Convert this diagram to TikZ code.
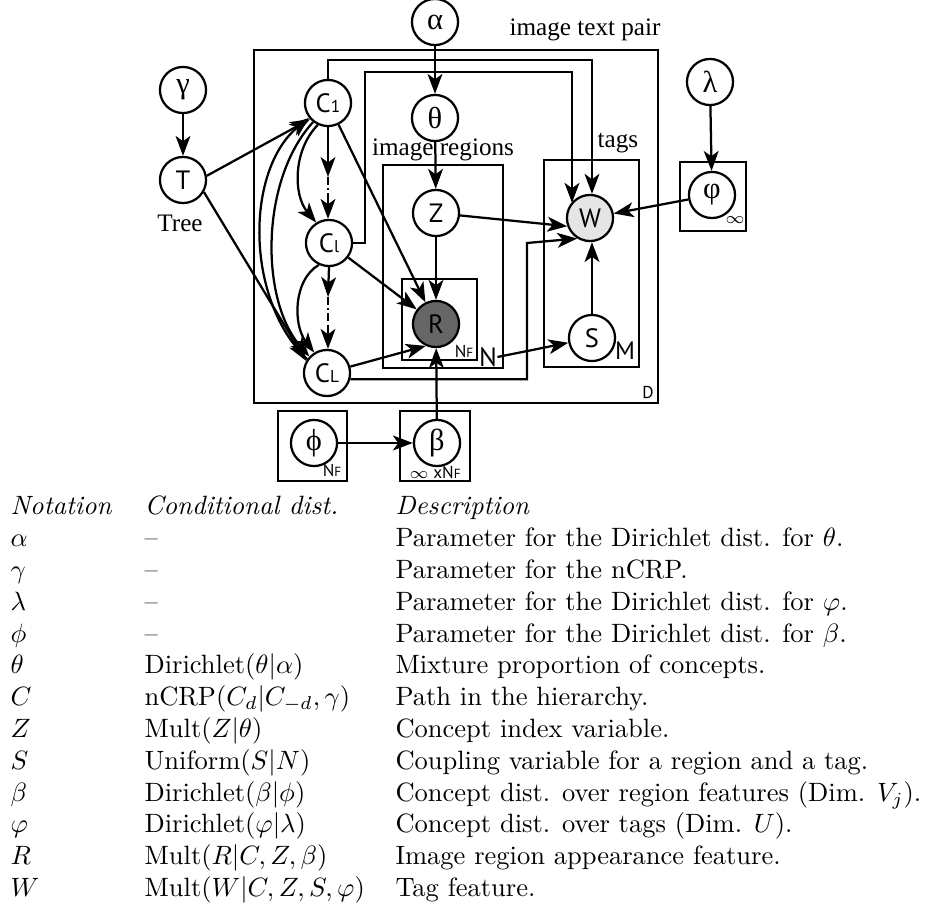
\documentclass[tikz,border=0pt]{standalone}
\usepackage{fontspec}
\newfontfamily\dsans{PT Sans}
\newfontfamily\dserif{Liberation Serif}
\usetikzlibrary{arrows.meta}
\definecolor{wgray}{gray}{0.9}
\definecolor{rgray}{gray}{0.4}
\begin{document}
\begin{tikzpicture}[x=0.3774pt,y=-0.3774pt,
  var/.style={circle,draw,line width=0.85pt,minimum size=17.4pt,inner sep=0pt,font=\dsans\fontsize{10}{10}\selectfont},
  gvar/.style={var,font=\dserif\fontsize{11.5}{11.5}\selectfont},
  plate/.style={draw,line width=0.85pt},
  arr/.style={-{Stealth[length=7.5pt,width=5.6pt,inset=2pt]},line width=0.85pt},
  ln/.style={line width=0.85pt},
  dd/.style={line width=0.85pt,dash pattern=on 3pt off 1.2pt on 0.8pt off 1.2pt},
  lbl/.style={font=\dserif\fontsize{9.5}{9.5}\selectfont,inner sep=0pt},
  sub/.style={font=\dsans\fontsize{6.5}{6.5}\selectfont,inner sep=0pt},
]
\useasboundingbox (0,0) rectangle (925,914);

% plates
\draw[plate] (254,50) rectangle (658,403);
\draw[plate] (383,165) rectangle (503,368);
\draw[plate] (402,279) rectangle (477,360);
\draw[plate] (544,160) rectangle (639,367);
\draw[plate] (680,162) rectangle (746,231);
\draw[plate] (278,411) rectangle (347,481);
\draw[plate] (400,411) rectangle (470,481);

% variables
\node[gvar] (alpha) at (435,22) {α};
\node[gvar] (gamma) at (183,90) {γ};
\node[var] (T) at (183,180) {T};
\node[var] (C1) at (328,103) {C{\fontsize{6.5}{6.5}\selectfont 1}};
\node[gvar] (theta) at (435,118) {θ};
\node[var] (Z) at (436,213) {Z};
\node[var] (Cl) at (329,243) {C{\fontsize{6.5}{6.5}\selectfont l}};
\node[var] (CL) at (327,373) {C{\fontsize{6.5}{6.5}\selectfont L}};
\node[var,fill=rgray] (R) at (436,324) {R};
\node[var,fill=wgray] (W) at (590,218) {W};
\node[var] (S) at (592,338) {S};
\node[gvar] (lambda) at (710,82) {λ};
\node[gvar] (vphi) at (712,195) {φ};
\node[gvar] (phi) at (314,443) {ϕ};
\node[gvar] (beta) at (437,443) {β};

% labels
\node[lbl] (tree) at (180,223) {Tree};
\node[lbl] (imreg) at (443,150) {image regions};
\node[lbl] (itp) at (585,30) {image text pair};
\node[lbl] (tags) at (618,143) {tags};
\node[sub] (nf1) at (464,351) {N{\fontsize{5}{5}\selectfont F}};
\node[font=\dsans\fontsize{10}{10}\selectfont,inner sep=0pt] (N) at (488,357) {N};
\node[font=\dsans\fontsize{9.5}{9.5}\selectfont,inner sep=0pt] (M) at (625,351) {M};
\node[sub] (D) at (648,392) {D};
\node[sub] (inf1) at (735,220) {$\infty$};
\node[sub] (nf2) at (332,470) {N{\fontsize{5}{5}\selectfont F}};
\node[sub] (nf3) at (435,472) {$\infty$ xN{\fontsize{5}{5}\selectfont F}};

% simple arrows
\draw[arr] (alpha) -- (theta);
\draw[arr] (theta) -- (Z);
\draw[arr] (gamma) -- (T);
\draw[arr] (lambda) -- (vphi);
\draw[arr] (T.10) -- (C1.222);
\draw[arr] (T.-30) -- (CL.150);

% chain C1 -> Cl -> CL
\coordinate (d1a) at (328,177);
\coordinate (d1b) at (328,197);
\draw[arr] (C1.south) -- (d1a);
\draw[dd] (d1a) -- (d1b);
\draw[arr] (d1b) -- (d1b |- Cl.north);
\coordinate (d2a) at (328,297);
\coordinate (d2b) at (328,327);
\draw[arr] (Cl.south) -- (d2a);
\draw[dd] (d2a) -- (d2b);
\draw[arr] (d2b) -- (d2b |- CL.north);

\draw[arr] (C1.245) .. controls (293,150) and (293,195) .. (Cl.122);
\draw[arr] (Cl.245) .. controls (293,280) and (293,325) .. (CL.122);
\draw[arr] (CL.145) .. controls (245,300) and (245,170) .. (C1.218);
\draw[arr] (C1.232) .. controls (260,180) and (260,300) .. (CL.137);

% to R
\draw[arr] (Z) -- (R);
\draw[arr] (Cl) -- (R);
\draw[arr] (C1) -- (R.116);
\draw[arr] (CL) -- (R.245);
\draw[arr] (beta) -- (R);
\draw[arr] (phi) -- (beta);

% to W
\coordinate (c1top) at (328,60);
\coordinate (c1right) at (592,60);
\draw[arr] (C1.north) -- (c1top) -- (c1right) -- (c1right |- W.north);
\coordinate (a1) at (365,243);
\coordinate (a2) at (365,72);
\coordinate (a3) at (572,72);
\draw[arr] (Cl.east) -- (a1) -- (a2) -- (a3) -- (a3 |- W.141);
\coordinate (b2) at (527,243);
\draw[arr] (CL.-15) -| (b2) -- (W.238);
\draw[arr] (Z) -- (W.200);
\draw[arr] (vphi) -- (W);
\draw[arr] (S.north) -- (S.north |- W.south);
\draw[arr] (N.east) -- (S);

% table
\node[anchor=base west,inner sep=0pt] (tab) at (10,515) {%
\begin{tabular}[t]{@{}p{50.6pt}@{}p{94.7pt}@{}l@{}}
\textit{Notation} & \textit{Conditional dist.} & \textit{Description}\\
$\alpha$ & -- & Parameter for the Dirichlet dist. for $\theta$.\\
$\gamma$ & -- & Parameter for the nCRP.\\
$\lambda$ & -- & Parameter for the Dirichlet dist. for $\varphi$.\\
$\phi$ & -- & Parameter for the Dirichlet dist. for $\beta$.\\
$\theta$ & Dirichlet$(\theta|\alpha)$ & Mixture proportion of concepts.\\
$C$ & nCRP$(C_d|C_{-d},\gamma)$ & Path in the hierarchy.\\
$Z$ & Mult$(Z|\theta)$ & Concept index variable.\\
$S$ & Uniform$(S|N)$ & Coupling variable for a region and a tag.\\
$\beta$ & Dirichlet$(\beta|\phi)$ & Concept dist. over region features (Dim. $V_j$).\\
$\varphi$ & Dirichlet$(\varphi|\lambda)$ & Concept dist. over tags (Dim. $U$).\\
$R$ & Mult$(R|C,Z,\beta)$ & Image region appearance feature.\\
$W$ & Mult$(W|C,Z,S,\varphi)$ & Tag feature.
\end{tabular}};
\end{tikzpicture}
\end{document}
